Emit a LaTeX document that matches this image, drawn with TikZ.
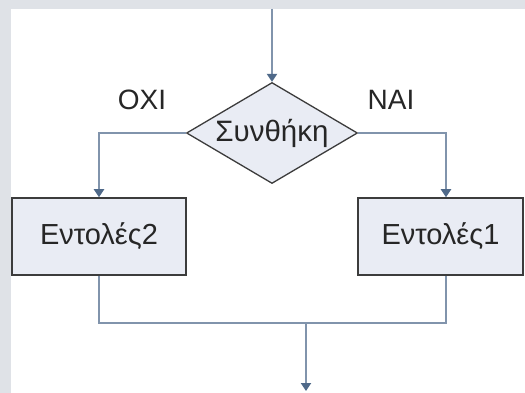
\documentclass[tikz,border=0pt]{standalone}
\usepackage{fontspec}
\setmainfont{Liberation Sans}
\usetikzlibrary{positioning}
\usetikzlibrary{arrows.meta,shapes.geometric}
\usetikzlibrary{calc}
\definecolor{framegray}{HTML}{DFE2E7}
\definecolor{linegray}{HTML}{8194AC}
\definecolor{tipblue}{HTML}{4F6989}
\definecolor{boxfill}{HTML}{E9ECF4}
\definecolor{boxdraw}{HTML}{3C3C3C}
\tikzstyle{decision}=[diamond,draw=boxdraw,fill=boxfill,line width=1.3pt,inner sep=0pt,shape aspect=1.69,minimum width=171pt,minimum height=101pt,font=\fontsize{29.5}{33}\selectfont,text=black!85]
\tikzstyle{block}=[rectangle,draw=boxdraw,fill=boxfill,line width=1.5pt,minimum height=77pt,inner sep=0pt,font=\fontsize{29}{33}\selectfont,text=black!85]
\tikzstyle{line} = [draw,linegray,line width=2pt,-{Triangle[length=8pt,width=10pt,color=tipblue]}]
\tikzstyle{plainline} = [draw,linegray,line width=2pt]
\tikzstyle{answer} = [font=\fontsize{28}{32}\selectfont,text=black!85]

\begin{document}
\begin{tikzpicture}[x=1pt,y=-1pt]
    % frame round the picture
    \fill[framegray] (0,0) rectangle (525,393);
    \fill[white] (11,9) rectangle (525,393);
    \useasboundingbox (0,0) rectangle (525,393);

    % the condition and its two answers
    \node[decision] (cond) at (272,133) {Συνθήκη};
    \node[answer] (no) at (142,100) {OXI};
    \node[answer] (yes) at (391,100) {NAI};

    % the two blocks of statements
    \foreach \pos/\name/\width/\label in {{(99,236.5)/e2/174pt/Εντολές2}, {(440.5,236.5)/e1/165pt/Εντολές1}}
        \node[block,minimum width=\width] (\name) at \pos {\label};

    % free ends of the flow
    \coordinate (in) at (272,9);
    \coordinate (merge) at (306,323);
    \coordinate (out) at (306,391);

    % Connect the shapes
    \path[line] (in) -- (cond.north);
    \path[line] (cond.west) -| (e2.north);
    \path[line] (cond.east) -| ([xshift=5.5pt]e1.north);
    \path[plainline] (e2.south) |- ([xshift=5.5pt]e1.south |- merge) -- ([xshift=5.5pt]e1.south);
    \path[line] (merge) -- (out);

\end{tikzpicture}
\end{document}
